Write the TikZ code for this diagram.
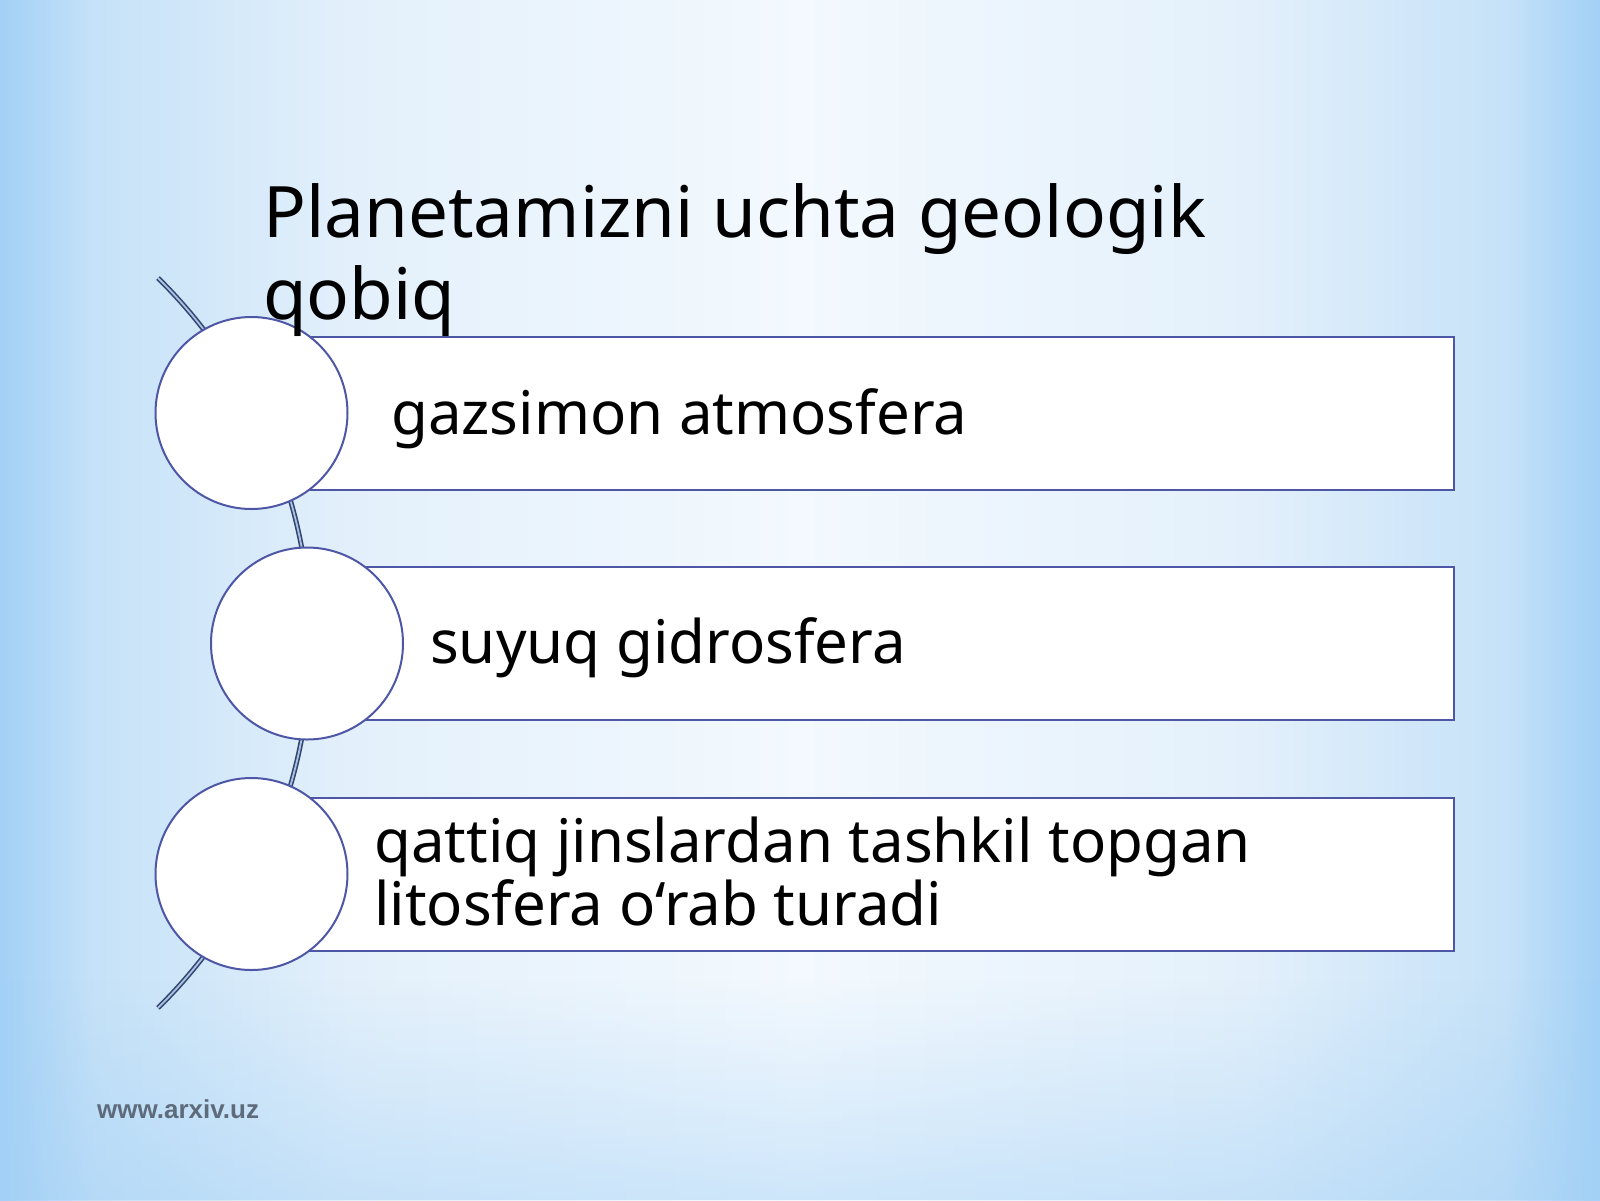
\documentclass[tikz,border=0pt]{standalone}
\usepackage{fontspec}
\setmainfont{Noto Sans}
\newfontfamily\footfont{Liberation Sans}
\usetikzlibrary{fadings}
\definecolor{edgeblue}{HTML}{4E56A6}
\definecolor{arcdark}{HTML}{34466E}
\definecolor{arclight}{HTML}{A9C3E6}
\definecolor{bgedge}{HTML}{A2D0F6}
\definecolor{bgnear}{HTML}{C6E2F8}
\definecolor{bglight}{HTML}{E3F0FB}
\definecolor{bgmid}{HTML}{F3F9FE}
\definecolor{foot}{HTML}{5E6B7A}
\pgfdeclarehorizontalshading{bgh}{100bp}{color(0bp)=(bgedge); color(25bp)=(bgedge); color(28bp)=(bgnear); color(36bp)=(bglight); color(50bp)=(bgmid); color(64bp)=(bglight); color(72bp)=(bgnear); color(75bp)=(bgedge); color(100bp)=(bgedge)}
\tikzset{
  circ/.style={circle, draw=edgeblue, line width=2pt, fill=white, minimum size=192pt, inner sep=0pt},
  listbox/.style={rectangle, draw=edgeblue, line width=2.2pt, fill=white, minimum height=153pt, inner sep=0pt},
  itemtext/.style={anchor=base west, font=\fontsize{60}{63}\selectfont, align=left, inner sep=0pt, text=black},
  spine/.style={draw=arcdark, double=arclight, line width=1.6pt, double distance=1.8pt},
}
\begin{document}
\begin{tikzpicture}[x=1pt,y=-1pt]
\shade[shading=bgh] (0,0) rectangle (1600,1200);
\fill[bgedge, opacity=0.45, path fading=north] (0,980) rectangle (1600,1200);
\useasboundingbox (0,0) rectangle (1600,1200);
% spine arc
\coordinate (s1) at (158,278);
\draw[spine] (s1) arc[start angle=45.4, end angle=-45.4, radius=512.6pt] coordinate (s2);
% boxes
\node[listbox, minimum width=1203pt] (b1) at (852.5,413.5) {};
\node[listbox, minimum width=1147pt] (b2) at (880.5,643.5) {};
\node[listbox, minimum width=1203pt] (b3) at (852.5,874.5) {};
% circles
\node[circ] (c1) at (251.5,413) {};
\node[circ] (c2) at (307,643.5) {};
\node[circ] (c3) at (251.5,874) {};
% texts
\node[itemtext] (t1) at (391,434) {gazsimon atmosfera};
\node[itemtext] (t2) at (430,663) {suyuq gidrosfera};
\node[itemtext] (t3) at (374,925) {qattiq jinslardan tashkil topgan\\litosfera o‘rab turadi};
% title
\node[anchor=base west, font=\fontsize{71}{82}\selectfont, align=left, inner sep=0pt] (title) at (263,319) {Planetamizni uchta geologik\\qobiq};
% footer
\node[anchor=base west, font=\footfont\bfseries\fontsize{26}{30}\selectfont, text=foot, inner sep=0pt] (footer) at (97,1118) {www.arxiv.uz};
\end{tikzpicture}
\end{document}
